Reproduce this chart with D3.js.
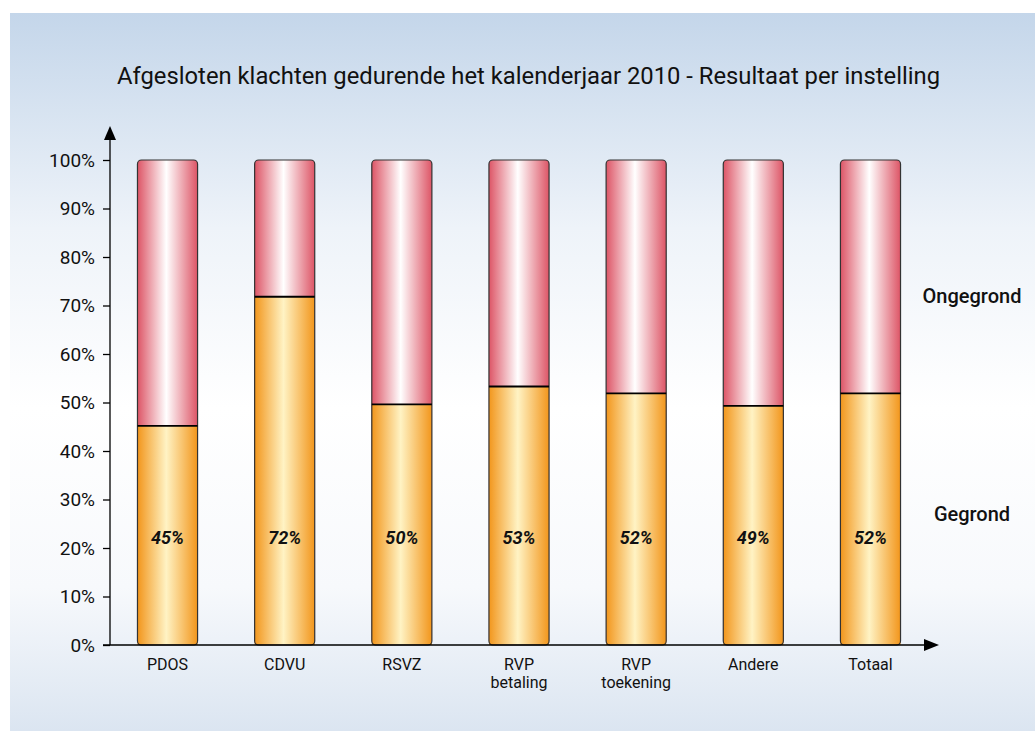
<!DOCTYPE html>
<html>
<head>
<meta charset="utf-8">
<script src="https://cdn.jsdelivr.net/npm/d3@7"></script>
<style>
 body { margin: 0; background: #fff; }
 text { font-family: Roboto, "Noto Sans", sans-serif; fill: #111; }
</style>
</head>
<body>
<script>
const width = 1035;
const height = 731;

// data
const categories = ["PDOS", "CDVU", "RSVZ", "RVP\nbetaling", "RVP\ntoekening", "Andere", "Totaal"];
const gegrond = [45.2, 71.8, 49.6, 53.3, 51.9, 49.3, 51.9];
const labels = ["45%", "72%", "50%", "53%", "52%", "49%", "52%"];
const yTicks = [0, 10, 20, 30, 40, 50, 60, 70, 80, 90, 100];
const title = "Afgesloten klachten gedurende het kalenderjaar 2010 - Resultaat per instelling";

const svg = d3.select("body").append("svg")
  .attr("width", width)
  .attr("height", height);

const defs = svg.append("defs");

// panel background gradient
const bg = defs.append("linearGradient").attr("id", "bg")
  .attr("x1", 0).attr("y1", 0).attr("x2", 0).attr("y2", 1);
bg.append("stop").attr("offset", "0%").attr("stop-color", "#c4d6ea");
bg.append("stop").attr("offset", "30%").attr("stop-color", "#eef3f9");
bg.append("stop").attr("offset", "55%").attr("stop-color", "#ffffff");
bg.append("stop").attr("offset", "80%").attr("stop-color", "#f7f9fc");
bg.append("stop").attr("offset", "100%").attr("stop-color", "#dbe5f1");

// bar gradients (horizontal)
function barGradient(id, edge, mid) {
  const g = defs.append("linearGradient").attr("id", id)
    .attr("x1", 0).attr("y1", 0).attr("x2", 1).attr("y2", 0);
  g.append("stop").attr("offset", "0%").attr("stop-color", edge);
  g.append("stop").attr("offset", "48%").attr("stop-color", mid);
  g.append("stop").attr("offset", "100%").attr("stop-color", edge);
}
barGradient("red", "#dd5566", "#ffffff");
barGradient("orange", "#f2961c", "#fff3c4");

svg.append("rect")
  .attr("x", 10).attr("y", 13)
  .attr("width", width - 10).attr("height", height - 13)
  .attr("fill", "url(#bg)");

svg.append("text")
  .attr("x", 117).attr("y", 84)
  .attr("font-size", 23)
  .attr("textLength", 823)
  .attr("lengthAdjust", "spacingAndGlyphs")
  .text(title);

const y = d3.scaleLinear().domain([0, 100]).range([645, 160]);
const x = d3.scaleBand().domain(categories).range([109, 929]).paddingInner(0.487).paddingOuter(0.243);

// bars: Gegrond (bottom) and Ongegrond (top)
const bars = svg.append("g").selectAll("g")
  .data(categories.map((c, i) => ({ c, v: gegrond[i], label: labels[i] })))
  .join("g");

bars.append("rect")
  .attr("x", d => x(d.c)).attr("width", x.bandwidth())
  .attr("y", y(100)).attr("height", y(0) - y(100))
  .attr("rx", 4)
  .attr("fill", "url(#red)");

bars.append("rect")
  .attr("x", d => x(d.c)).attr("width", x.bandwidth())
  .attr("y", d => y(d.v)).attr("height", d => y(0) - y(d.v))
  .attr("fill", "url(#orange)");

// outline
bars.append("rect")
  .attr("x", d => x(d.c)).attr("width", x.bandwidth())
  .attr("y", y(100)).attr("height", y(0) - y(100))
  .attr("rx", 4)
  .attr("fill", "none")
  .attr("stroke", "#333")
  .attr("stroke-width", 1.2);

bars.append("line")
  .attr("x1", d => x(d.c)).attr("x2", d => x(d.c) + x.bandwidth())
  .attr("y1", d => y(d.v)).attr("y2", d => y(d.v))
  .attr("stroke", "#000").attr("stroke-width", 1.8);

bars.append("text")
  .attr("x", d => x(d.c) + x.bandwidth() / 2)
  .attr("y", y(22) + 6)
  .attr("text-anchor", "middle")
  .attr("font-size", 18)
  .attr("font-style", "italic")
  .attr("font-weight", "bold")
  .text(d => d.label);

// y axis
const yAxis = svg.append("g").attr("transform", "translate(110,0)")
  .call(d3.axisLeft(y).tickValues(yTicks).tickSize(7).tickPadding(8).tickFormat(d => d + "%"));
yAxis.select(".domain").remove();
yAxis.selectAll("line").attr("stroke", "#000").attr("stroke-width", 1.3);
yAxis.selectAll("text").attr("font-size", 19).attr("fill", "#111").attr("font-family", "Roboto, sans-serif");

svg.append("line").attr("x1", 110).attr("x2", 110).attr("y1", 645).attr("y2", 138)
  .attr("stroke", "#000").attr("stroke-width", 1.3);
svg.append("path").attr("d", "M104,140 L110,126 L116,140 Z").attr("fill", "#000");

// x axis
svg.append("line").attr("x1", 103).attr("x2", 926).attr("y1", 645).attr("y2", 645)
  .attr("stroke", "#000").attr("stroke-width", 1.3);
svg.append("path").attr("d", "M924,639 L939,645 L924,651 Z").attr("fill", "#000");

// category labels, one text per line
const labelLines = categories.flatMap(c =>
  c.split("\n").map((line, i) => ({ c, line, i })));
svg.append("g").selectAll("text")
  .data(labelLines)
  .join("text")
  .attr("x", d => x(d.c) + x.bandwidth() / 2)
  .attr("y", d => 670 + d.i * 18)
  .attr("text-anchor", "middle")
  .attr("font-size", 16)
  .text(d => d.line);

// series labels on the right
const series = [
  { name: "Ongegrond", v: 72 },
  { name: "Gegrond", v: 27 }
];
svg.append("g").selectAll("text")
  .data(series)
  .join("text")
  .attr("x", 972)
  .attr("y", d => y(d.v) + 7)
  .attr("text-anchor", "middle")
  .attr("font-size", 20)
  .attr("font-weight", 500)
  .text(d => d.name);
</script>
</body>
</html>
